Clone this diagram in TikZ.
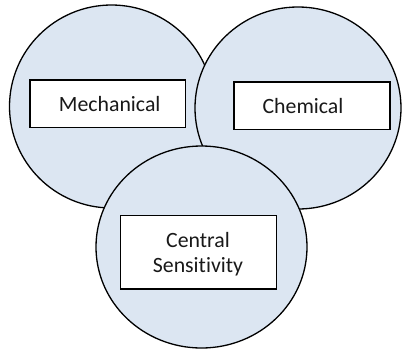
\documentclass[tikz,border=0pt]{standalone}
\usepackage{fontspec}
\setmainfont[RawFeature={-liga}]{Carlito}
\usetikzlibrary{shapes.geometric}
\definecolor{circfill}{HTML}{DCE6F2}
\tikzset{
  blob/.style={ellipse, draw=black, fill=circfill, line width=1.3pt, inner sep=0pt},
  boxnode/.style={rectangle, draw=black, fill=white, line width=1.6pt, inner sep=0pt},
  txt/.style={inner sep=0pt, font=\fontsize{21.8}{25.7}\selectfont, text=black!90}
}
\begin{document}
\begin{tikzpicture}[x=1pt,y=-1pt]
\useasboundingbox (0,0) rectangle (402,349);
\node[blob, minimum width=204pt, minimum height=203pt] (left) at (111.5,106.5) {};
\node[blob, minimum width=206pt, minimum height=202pt] (right) at (298,108) {};
\node[blob, minimum width=211pt, minimum height=202pt] (bottom) at (201.5,247) {};
\node[boxnode, minimum width=155.7pt, minimum height=47.7pt] (mechbox) at (107.8,103.8) {};
\node[boxnode, minimum width=156pt, minimum height=47.6pt] (chembox) at (312,105.5) {};
\node[boxnode, minimum width=156pt, minimum height=73.5pt] (centbox) at (198.3,252.4) {};
\node[txt, anchor=base] (mecht) at (109.7,111) {Mechanical};
\node[txt, anchor=base] (chemt) at (303,113.3) {Chemical};
\node[txt, anchor=base] (centt1) at (198,247) {Central};
\node[txt, anchor=base] (centt2) at (198,272.7) {Sensitivity};
\end{tikzpicture}
\end{document}
